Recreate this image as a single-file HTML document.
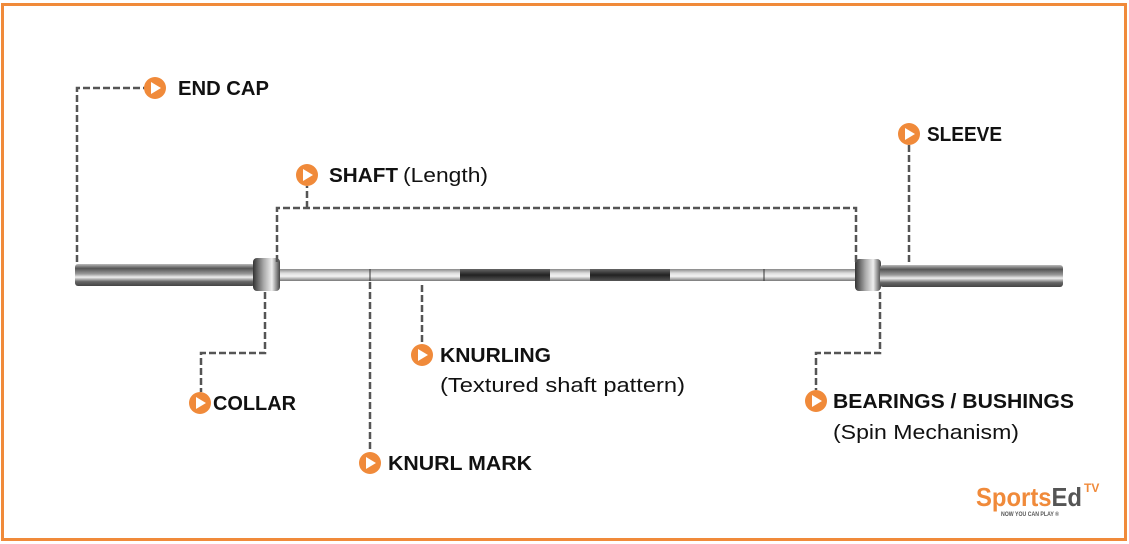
<!DOCTYPE html>
<html><head><style>
html,body{margin:0;padding:0;background:#fff}
svg{display:block}
text{font-family:"Liberation Sans",sans-serif;font-size:20px;fill:#111}
.b{font-weight:bold}
</style></head><body>
<svg width="1129" height="544" viewBox="0 0 1129 544" xmlns="http://www.w3.org/2000/svg">
<defs>
<linearGradient id="sl" x1="0" y1="0" x2="0" y2="1">
<stop offset="0" stop-color="#bbb"/><stop offset="0.2" stop-color="#555"/><stop offset="0.45" stop-color="#999"/><stop offset="0.6" stop-color="#eee"/><stop offset="0.8" stop-color="#666"/><stop offset="1" stop-color="#444"/>
</linearGradient>
<linearGradient id="sh" x1="0" y1="0" x2="0" y2="1">
<stop offset="0" stop-color="#888"/><stop offset="0.35" stop-color="#ddd"/><stop offset="0.6" stop-color="#f4f4f4"/><stop offset="1" stop-color="#777"/>
</linearGradient>
<linearGradient id="dk" x1="0" y1="0" x2="0" y2="1">
<stop offset="0" stop-color="#666"/><stop offset="0.5" stop-color="#222"/><stop offset="1" stop-color="#555"/>
</linearGradient>
<linearGradient id="co" x1="0" y1="0" x2="1" y2="0">
<stop offset="0" stop-color="#333"/><stop offset="0.4" stop-color="#aaa"/><stop offset="0.7" stop-color="#eee"/><stop offset="1" stop-color="#444"/>
</linearGradient>
</defs>
<rect x="2.5" y="4.5" width="1123" height="535" fill="none" stroke="#F08A3A" stroke-width="3"/>

<rect x="75" y="264" width="180" height="22" rx="3" fill="url(#sl)"/>
<rect x="280" y="269" width="578" height="12" fill="url(#sh)"/>
<rect x="460" y="269" width="90" height="12" fill="url(#dk)"/>
<rect x="590" y="269" width="80" height="12" fill="url(#dk)"/>
<line x1="370" y1="269" x2="370" y2="281" stroke="#333"/>
<line x1="764" y1="269" x2="764" y2="281" stroke="#333"/>
<rect x="253" y="258" width="27" height="33" rx="4" fill="url(#co)"/>
<rect x="855" y="259" width="26" height="32" rx="4" fill="url(#co)"/>
<rect x="880" y="265" width="183" height="22" rx="3" fill="url(#sl)"/>

<g fill="none" stroke="#555" stroke-width="2.5" stroke-dasharray="7,3">
<polyline points="77,262 77,88 145,88"/>
<polyline points="277,262 277,208 856,208 856,262"/>
<line x1="307" y1="208" x2="307" y2="186"/>
<line x1="909" y1="262" x2="909" y2="145"/>
<polyline points="265,292 265,353 201,353 201,392"/>
<line x1="370" y1="282" x2="370" y2="452"/>
<line x1="422" y1="285" x2="422" y2="344"/>
<polyline points="880,292 880,353 816,353 816,390"/>
</g>

<g fill="#F08A3A">
<circle cx="155" cy="88" r="11"/><circle cx="307" cy="175" r="11"/><circle cx="909" cy="134" r="11"/>
<circle cx="200" cy="403" r="11"/><circle cx="370" cy="463" r="11"/><circle cx="422" cy="355" r="11"/><circle cx="816" cy="401" r="11"/>
</g>
<g fill="#fff">
<polygon points="151,82 151,94 161,88"/><polygon points="303,169 303,181 313,175"/><polygon points="905,128 905,140 915,134"/>
<polygon points="196,397 196,409 206,403"/><polygon points="366,457 366,469 376,463"/><polygon points="418,349 418,361 428,355"/><polygon points="812,395 812,407 822,401"/>
</g>

<text x="178" y="95" class="b" textLength="91" lengthAdjust="spacingAndGlyphs">END CAP</text>
<text x="329" y="182" class="b" textLength="69" lengthAdjust="spacingAndGlyphs">SHAFT</text>
<text x="403" y="182" textLength="85" lengthAdjust="spacingAndGlyphs">(Length)</text>
<text x="927" y="141" class="b" textLength="75" lengthAdjust="spacingAndGlyphs">SLEEVE</text>
<text x="213" y="410" class="b" textLength="83" lengthAdjust="spacingAndGlyphs">COLLAR</text>
<text x="388" y="470" class="b" textLength="144" lengthAdjust="spacingAndGlyphs">KNURL MARK</text>
<text x="440" y="362" class="b" textLength="111" lengthAdjust="spacingAndGlyphs">KNURLING</text>
<text x="440" y="392" textLength="245" lengthAdjust="spacingAndGlyphs">(Textured shaft pattern)</text>
<text x="833" y="408" class="b" textLength="241" lengthAdjust="spacingAndGlyphs">BEARINGS / BUSHINGS</text>
<text x="833" y="439" textLength="186" lengthAdjust="spacingAndGlyphs">(Spin Mechanism)</text>

<text x="976" y="506" style="font-size:26px;font-weight:bold;fill:#F08A3A" textLength="106" lengthAdjust="spacingAndGlyphs">Sports<tspan style="fill:#555">Ed</tspan></text>
<text x="1084" y="492" style="font-size:12px;font-weight:bold;fill:#F08A3A">TV</text>
<text x="1001" y="516" style="font-size:6px;font-weight:bold;fill:#555" textLength="58" lengthAdjust="spacingAndGlyphs">NOW YOU CAN PLAY ®</text>
</svg>
</body></html>
